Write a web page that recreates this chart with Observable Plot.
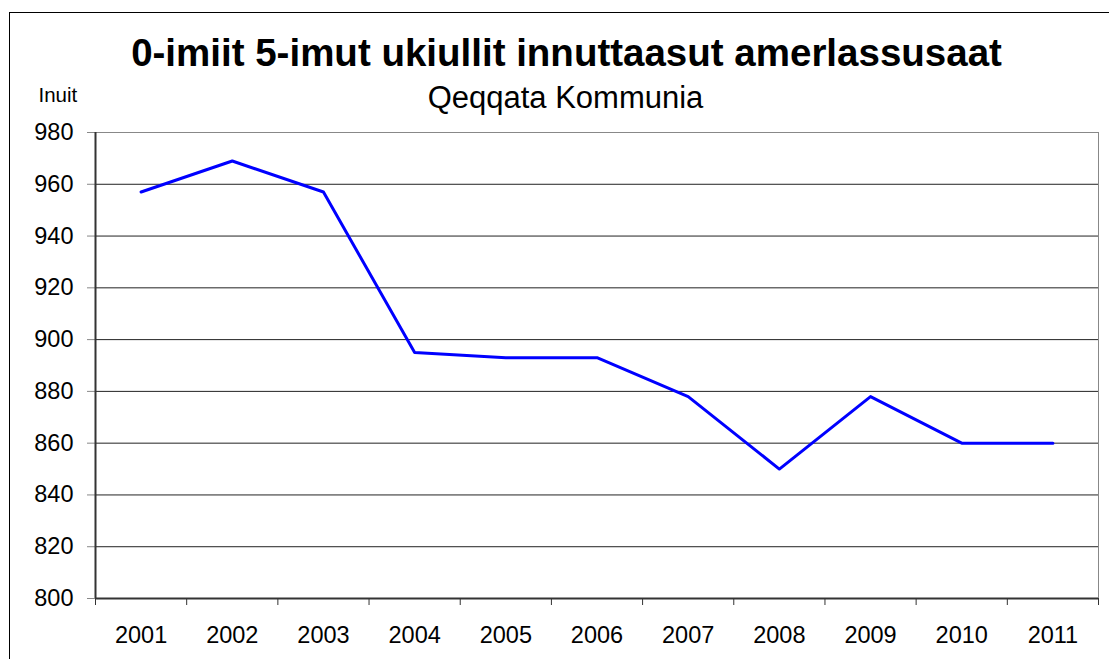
<!DOCTYPE html>
<html>
<head>
<meta charset="utf-8">
<script src="https://cdn.jsdelivr.net/npm/d3@7"></script>
<script src="https://cdn.jsdelivr.net/npm/@observablehq/plot@0.6"></script>
<style>
  html, body { margin: 0; padding: 0; background: #fff; overflow: hidden; }
  #wrap { position: relative; width: 1109px; height: 659px; overflow: hidden; }
  #border { position: absolute; left: 9px; top: 12px; width: 1300px; height: 900px; border: 1px solid #000; box-sizing: border-box; pointer-events: none; }
  #chart { position: absolute; left: 0; top: 0; }
</style>
</head>
<body>
<div id="wrap"><div id="chart"></div><div id="border"></div></div>
<script>
const years = [2001, 2002, 2003, 2004, 2005, 2006, 2007, 2008, 2009, 2010, 2011];
const values = [957, 969, 957, 895, 893, 893, 878, 850, 878, 860, 860];
const yTicks = [800, 820, 840, 860, 880, 900, 920, 940, 960, 980];
const title = "0-imiit 5-imut ukiullit innuttaasut amerlassusaat";
const subtitle = "Qeqqata Kommunia";
const yUnit = "Inuit";

const data = years.map((year, i) => ({year, value: values[i]}));
const boundaries = [...years.map(y => y - 0.5), years[years.length - 1] + 0.5];
const xMin = boundaries[0], xMax = boundaries[boundaries.length - 1];
const yMin = yTicks[0], yMax = yTicks[yTicks.length - 1];

const chart = Plot.plot({
  width: 1109,
  height: 659,
  marginLeft: 95,
  marginRight: 11,
  marginTop: 132,
  marginBottom: 61,
  style: {fontFamily: "'Liberation Sans', Arial, sans-serif", background: "transparent", overflow: "visible"},
  x: {domain: [xMin, xMax], label: null},
  y: {domain: [yMin, yMax], label: null},
  marks: [
    Plot.ruleY(yTicks.slice(1, -1), {stroke: "#222", strokeWidth: 1}),
    Plot.ruleY([yMax], {stroke: "#888", strokeWidth: 1}),
    Plot.ruleX([xMax], {stroke: "#888", strokeWidth: 1}),
    Plot.axisY({ticks: yTicks, tickSize: 8, tickPadding: 14, fontSize: 23.5, stroke: "#888", fill: "#000", label: null, tickFormat: d => String(d)}),
    Plot.axisX({ticks: boundaries, tickSize: 7, tickFormat: () => "", stroke: "#333", label: null}),
    Plot.axisX({ticks: years, tickSize: 0, tickPadding: 28, fontSize: 23.5, fill: "#000", label: null, tickFormat: d => String(d)}),
    Plot.ruleX([xMin], {stroke: "#333", strokeWidth: 2}),
    Plot.ruleY([yMin], {stroke: "#333", strokeWidth: 2}),
    Plot.line(data, {x: "year", y: "value", stroke: "#0000ff", strokeWidth: 3}),
    Plot.text([title], {frameAnchor: "top", text: d => d, dx: -30.5, dy: -67, lineAnchor: "bottom", fontSize: 38.5, fontWeight: "bold", fill: "#000"}),
    Plot.text([subtitle], {frameAnchor: "top", text: d => d, dx: -31.5, dy: -25, lineAnchor: "bottom", fontSize: 31, fill: "#000"}),
    Plot.text([yUnit], {frameAnchor: "top-left", text: d => d, dx: -57, dy: -31, lineAnchor: "bottom", textAnchor: "start", fontSize: 20.5, fill: "#000"})
  ]
});
document.getElementById("chart").appendChild(chart);
</script>
</body>
</html>
